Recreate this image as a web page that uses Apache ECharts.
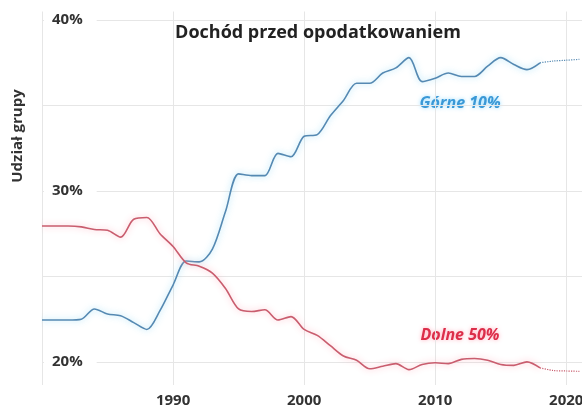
<!DOCTYPE html>
<html><head><meta charset="utf-8">
<script src="https://cdn.jsdelivr.net/npm/echarts@6/dist/echarts.min.js"></script>
<style>html,body{margin:0;padding:0;background:#fff}#c{width:582px;height:412px}</style>
</head><body><div id="c"></div>
<script>
const years = [1980,1981,1982,1983,1984,1985,1986,1987,1988,1989,1990,1991,1992,1993,1994,1995,1996,1997,1998,1999,2000,2001,2002,2003,2004,2005,2006,2007,2008,2009,2010,2011,2012,2013,2014,2015,2016,2017,2018];
const top10 = [22.45,22.45,22.45,22.5,23.1,22.8,22.7,22.3,21.9,23.0,24.5,25.9,25.85,26.6,28.8,31.0,30.9,30.9,32.2,32.0,33.2,33.3,34.4,35.3,36.3,36.3,36.9,37.2,37.8,36.4,36.6,36.9,36.7,36.7,37.3,37.8,37.4,37.1,37.5];
const bottom50 = [27.95,27.95,27.95,27.9,27.75,27.7,27.3,28.35,28.45,27.5,26.75,25.8,25.6,25.2,24.3,23.1,22.95,23.05,22.45,22.65,21.9,21.55,20.95,20.35,20.1,19.6,19.75,19.9,19.55,19.85,19.95,19.9,20.15,20.2,20.1,19.85,19.8,20.0,19.65];
const projYears = [2018,2019,2020,2021];
const top10Proj = [37.5,37.6,37.65,37.7];
const bottom50Proj = [19.65,19.5,19.47,19.45];
const gridValues = [20,25,30,35,40];
const labelValues = [20,30,40];
const xLabelYears = [1990,2000,2010,2020];

const pairs = (xs, ys) => xs.map((x,i)=>[x, ys[i]]);
const FONT = 'Open Sans';
const BLUE = '#5589b2', RED = '#c95d6e';

const chart = echarts.init(document.getElementById('c'), null, {renderer:'canvas'});
chart.setOption({
  animation: false,
  backgroundColor: '#fff',
  grid: {left: 42, right: 0, top: 11.5, bottom: 27, show: false, outerBoundsMode: 'none', containLabel: false},
  xAxis: {
    type: 'value', min: 1980, max: 2021.2,
    axisLine: {show: false},
    axisTick: {show:false, customValues: [1980].concat(xLabelYears)},
    axisLabel: {customValues: xLabelYears, formatter: v => String(v), color: '#333', fontFamily: FONT, fontWeight: 'bold', fontSize: 15, margin: 8, hideOverlap: false},
    splitLine: {show: true, lineStyle: {color: '#e6e6e6', width: 1}}
  },
  yAxis: {
    type: 'value', min: 18.65, max: 40.5,
    axisLine: {show: false},
    axisTick: {show: false, customValues: gridValues},
    axisLabel: {customValues: labelValues, inside: true, margin: 2, formatter: v => v + '%',
      color: '#333', fontFamily: FONT, fontWeight: 'bold', fontSize: 15,
      backgroundColor: '#fff', padding: [0, 14, 0, 8]},
    splitLine: {show: true, lineStyle: {color: '#e6e6e6', width: 1}},
    z: 3
  },
  series: [
    {type: 'line', data: pairs(years, top10), smooth: 0.3, showSymbol: false,
     lineStyle: {color: BLUE, width: 1.6, shadowBlur: 6, shadowColor: 'rgba(140,215,245,0.85)'}},
    {type: 'line', data: pairs(years, bottom50), smooth: 0.3, showSymbol: false,
     lineStyle: {color: RED, width: 1.6, shadowBlur: 6, shadowColor: 'rgba(255,170,185,0.85)'}},
    {type: 'line', data: pairs(projYears, top10Proj), smooth: 0.3, showSymbol: false,
     lineStyle: {color: BLUE, width: 1.2, type: 'dotted'}},
    {type: 'line', data: pairs(projYears, bottom50Proj), smooth: 0.3, showSymbol: false,
     lineStyle: {color: RED, width: 1.2, type: 'dotted'}}
  ],
  graphic: [
    {type: 'text', x: 318, y: 33, z: 10, style: {text: 'Dochód przed opodatkowaniem', align: 'center', verticalAlign: 'middle',
      font: 'bold 18px "Open Sans"', fill: '#222'}},
    {type: 'text', x: 18, y: 136, rotation: Math.PI/2, style: {text: 'Udział grupy', align: 'center', verticalAlign: 'middle',
      font: 'bold 15px "Open Sans"', fill: '#333'}},
    {type: 'text', x: 460, y: 103, style: {text: 'Górne 10%', align: 'center', verticalAlign: 'middle',
      font: 'italic bold 16px "Open Sans"', fill: '#3a98d6', textShadowBlur: 4, textShadowColor: 'rgba(120,210,255,0.8)'}},
    {type: 'text', x: 460, y: 335, style: {text: 'Dolne 50%', align: 'center', verticalAlign: 'middle',
      font: 'italic bold 16px "Open Sans"', fill: '#dc2e4a', textShadowBlur: 4, textShadowColor: 'rgba(255,150,170,0.8)'}}
  ]
});
</script></body></html>
